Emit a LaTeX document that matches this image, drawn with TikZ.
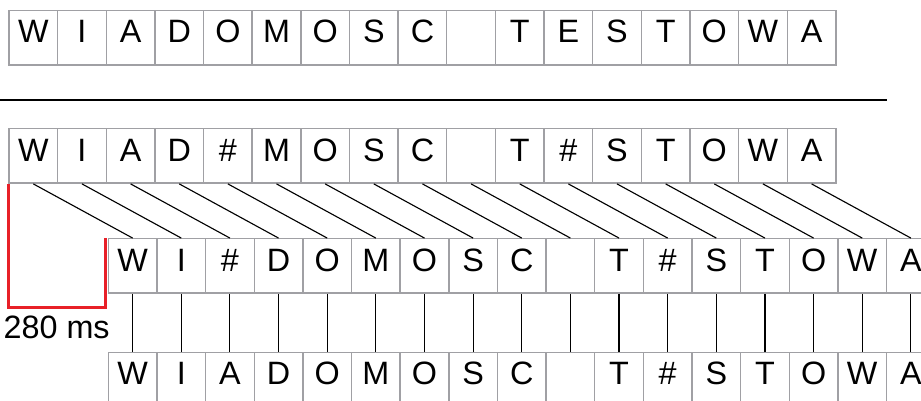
\documentclass[tikz,border=0pt]{standalone}
\usepackage{fontspec}
\setmainfont{Liberation Sans}
\usepackage{tikz}
\usepackage{xcolor}

\definecolor{ramka}{RGB}{160,160,164}
\definecolor{czerw}{RGB}{232,32,40}

\begin{document}
\begin{tikzpicture} %Opoznienie
      [
      cell/.style={draw=ramka, line width=1pt, minimum width=1.216cm, minimum height=1.36cm, inner sep=0pt,
        text height=0.716em, text depth=0pt, font=\fontsize{23}{26}\selectfont},
      label/.style={inner sep=0pt, text height=0.716em, text depth=0pt, font=\fontsize{23}{26}\selectfont},
      link/.style={draw=black, line width=0.8pt}
      ]
      \path[use as bounding box] (0,0) rectangle (23.025,10.025);
      \clip (0,0) rectangle (23.025,10.025);
      \foreach \l [count=\i] in {W,I,A,D,O,M,O,S,C,{},T,E,S,T,O,W,A}
        \node[cell] (a-\i) at ({0.225+1.216*(\i-0.5)},9.08) {\l};
      \draw[line width=1.3pt] (0,7.525) -- (22.175,7.525);
      \foreach \l [count=\i] in {W,I,A,D,\#,M,O,S,C,{},T,\#,S,T,O,W,A}
        \node[cell] (b-\i) at ({0.225+1.216*(\i-0.5)},6.125) {\l};
      \foreach \l [count=\i] in {W,I,\#,D,O,M,O,S,C,{},T,\#,S,T,O,W,A}
        \node[cell] (c-\i) at ({2.708+1.216*(\i-0.5)},3.375) {\l};
      \foreach \l [count=\i] in {W,I,A,D,O,M,O,S,C,{},T,\#,S,T,O,W,A}
        \node[cell] (d-\i) at ({2.708+1.216*(\i-0.5)},0.533) {\l};
      \foreach \i in {1,...,17}{
        \draw[link] (b-\i.south) -- (c-\i.north);
        \draw[link] (c-\i.south) -- (d-\i.north);
      }
      \coordinate (opozn) at (2.643,2.333);
      \draw[czerw, line width=2pt] (b-1.south west) |- (opozn) -- (opozn |- c-1.north);
      \node[label] (czas) at (1.417,1.68) {280 ms};
\end{tikzpicture}
\end{document}
